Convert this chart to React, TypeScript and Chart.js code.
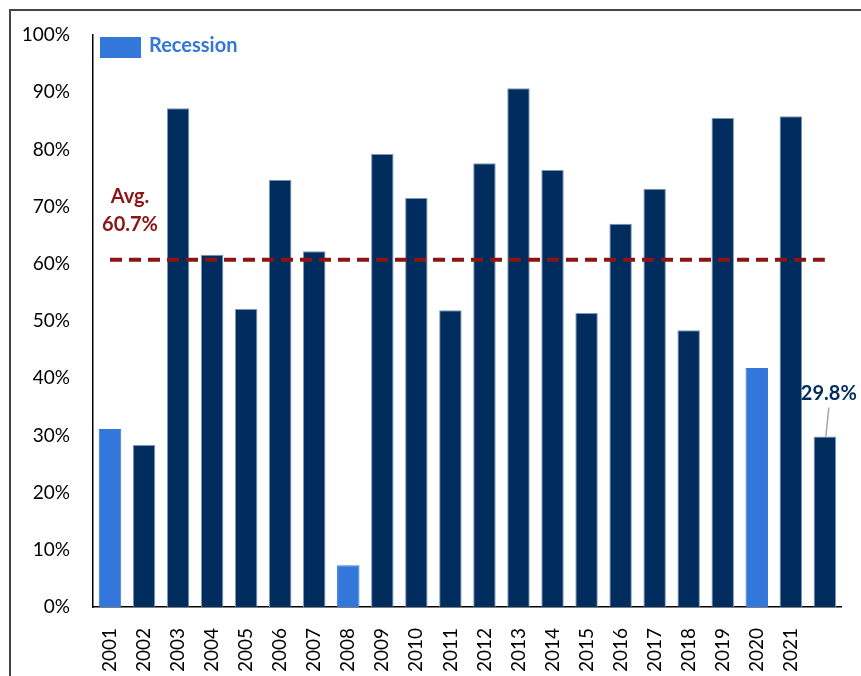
import React, { useEffect, useRef } from "react";
import { Chart, registerables } from "chart.js";

Chart.register(...registerables);

const years: string[] = [
  "2001", "2002", "2003", "2004", "2005", "2006", "2007", "2008", "2009", "2010", "2011",
  "2012", "2013", "2014", "2015", "2016", "2017", "2018", "2019", "2020", "2021", "",
];
const values: number[] = [
  31.1, 28.3, 87.2, 61.6, 52.1, 74.7, 62.2, 7.3, 79.2, 71.5, 51.9,
  77.6, 90.7, 76.4, 51.4, 67.0, 73.1, 48.4, 85.5, 41.8, 85.8, 29.8,
];
const recessionYears: string[] = ["2001", "2008", "2020"];
const AVG = 60.7;
const yTicks: number[] = [0, 10, 20, 30, 40, 50, 60, 70, 80, 90, 100];
const LAST_LABEL = "29.8%";

const NAVY = "#002D5E";
const REC = "#3477DA";
const AVG_RED = "#8B1414";
const FONT = "Lato, 'Open Sans', sans-serif";

const overlayPlugin = {
  id: "overlay",
  afterDatasetsDraw(chart: any) {
    const ctx = chart.ctx;
    const xs = chart.scales.x;
    const ys = chart.scales.y;
    ctx.save();
    // Legend
    ctx.fillStyle = REC;
    ctx.fillRect(100, 37, 41, 21);
    ctx.font = `bold 20px ${FONT}`;
    ctx.textBaseline = "middle";
    ctx.textAlign = "left";
    ctx.fillText("Recession", 149, 46);

    // Avg label
    const yAvg = ys.getPixelForValue(AVG);
    const xAvg = xs.getPixelForValue(0) + 20;
    ctx.fillStyle = AVG_RED;
    ctx.textAlign = "center";
    ctx.fillText("Avg.", xAvg, yAvg - 63);
    ctx.fillText(AVG.toFixed(1) + "%", xAvg, yAvg - 35);

    // Last bar label with leader line
    const li = values.length - 1;
    const bx = xs.getPixelForValue(li);
    const by = ys.getPixelForValue(values[li]);
    ctx.strokeStyle = "#A6A6A6";
    ctx.lineWidth = 1.5;
    ctx.beginPath();
    ctx.moveTo(bx + 4, by - 29);
    ctx.lineTo(bx + 1, by);
    ctx.stroke();
    ctx.fillStyle = NAVY;
    ctx.fillText(LAST_LABEL, bx + 4, by - 43);
    ctx.restore();
  },
};

export default function App() {
  const ref = useRef<HTMLCanvasElement | null>(null);
  useEffect(() => {
    if (!ref.current) return;
    const isRec = years.map((y) => recessionYears.includes(y));
    const chart = new Chart(ref.current, {
      type: "bar",
      data: {
        labels: years,
        datasets: [
          {
            type: "line",
            data: years.map(() => AVG),
            borderColor: AVG_RED,
            borderWidth: 4,
            borderDash: [12, 7],
            pointRadius: 0,
            fill: false,
            order: 0,
          } as any,
          {
            type: "bar",
            data: values,
            backgroundColor: isRec.map((r) => (r ? REC : NAVY)),
            borderColor: isRec.map((r) => (r ? REC : "#7E97B8")),
            borderWidth: 1,
            categoryPercentage: 1,
            barPercentage: 0.66,
            order: 1,
          },
        ],
      },
      options: {
        responsive: false,
        animation: false,
        layout: { padding: { left: 0, right: 16, top: 35, bottom: 0 } },
        plugins: { legend: { display: false }, tooltip: { enabled: false } },
        scales: {
          x: {
            grid: { display: false },
            border: { display: true, color: "#000", width: 1.5 },
            ticks: {
              autoSkip: false,
              maxRotation: 90,
              minRotation: 90,
              padding: 13,
              color: "#000",
              font: { family: FONT, size: 19 },
            },
            afterFit: (s: any) => {
              s.height = 69;
            },
          },
          y: {
            min: 0,
            max: 100,
            grid: { display: false },
            border: { display: true, color: "#000", width: 1.5 },
            afterBuildTicks: (s: any) => {
              s.ticks = yTicks.map((v) => ({ value: v }));
            },
            ticks: {
              padding: 15,
              color: "#000",
              font: { family: FONT, size: 19 },
              callback: (v: any) => v + "%",
            },
            afterFit: (s: any) => {
              s.width = 93;
            },
          },
        },
      },
      plugins: [overlayPlugin],
    });
    return () => chart.destroy();
  }, []);

  return (
    <div style={{ position: "fixed", left: 0, top: 0, width: 861, height: 676, background: "#fff", overflow: "hidden" }}>
      <div
        style={{
          position: "absolute",
          left: 9,
          top: 9,
          width: 900,
          height: 700,
          borderLeft: "2px solid #444",
          borderTop: "2px solid #444",
        }}
      />
      <canvas ref={ref} width={861} height={676} style={{ position: "absolute", left: 0, top: 0 }} />
    </div>
  );
}
